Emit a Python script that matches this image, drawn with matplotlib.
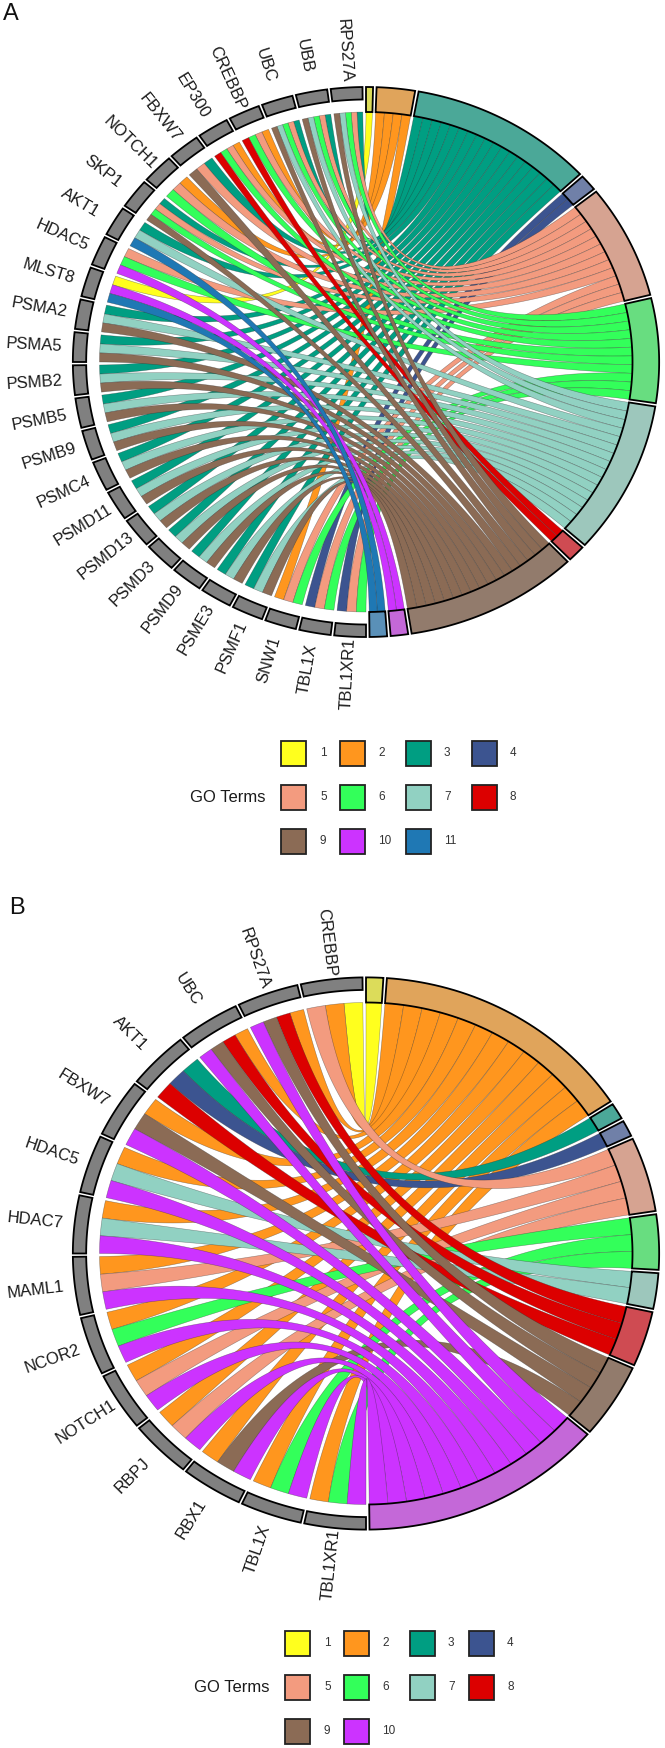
import numpy as np
from matplotlib import pyplot as plt
from matplotlib.patches import Polygon, Rectangle

plt.rcParams['font.family'] = ['Liberation Sans', 'DejaVu Sans']

ribbon_cols = ['#FFFF1E', '#FF961E', '#009E82', '#3C5490', '#F39B7F', '#33FF5A',
               '#91D1C2', '#DC0000', '#8B6B55', '#CC33FF', '#1F78B4']
term_cols = ['#DCDC5A', '#E0A45B', '#4BA898', '#7080A8', '#D6A391', '#68DD80',
             '#9DC7BC', '#CF4B52', '#927B6C', '#C468D8', '#5A90B8']

genes_a = ['RPS27A', 'UBB', 'UBC', 'CREBBP', 'EP300', 'FBXW7', 'NOTCH1', 'SKP1', 'AKT1',
           'HDAC5', 'MLST8', 'PSMA2', 'PSMA5', 'PSMB2', 'PSMB5', 'PSMB9', 'PSMC4', 'PSMD11',
           'PSMD13', 'PSMD3', 'PSMD9', 'PSME3', 'PSMF1', 'SNW1', 'TBL1X', 'TBL1XR1']
gene_terms_a = [[3, 5, 6, 7, 9], [3, 5, 6, 7, 9], [3, 5, 6, 7, 9], [2, 5, 6, 8], [2, 5, 6, 8],
                [3, 5, 9], [2, 5, 6], [3, 5, 6, 9], [3, 7, 11], [5, 6, 10], [1, 10, 11],
                [3, 7, 9], [3, 7, 9], [3, 7, 9], [3, 7, 9], [3, 7, 9], [3, 7, 9], [3, 7, 9],
                [3, 7, 9], [3, 7, 9], [3, 7, 9], [3, 7, 9], [3, 7, 9],
                [2, 5, 6], [4, 5, 6], [4, 5, 6]]

genes_b = ['CREBBP', 'RPS27A', 'UBC', 'AKT1', 'FBXW7', 'HDAC5', 'HDAC7', 'MAML1', 'NCOR2',
           'NOTCH1', 'RBPJ', 'RBX1', 'TBL1X', 'TBL1XR1']
gene_terms_b = [[1, 2, 5], [2, 8, 9, 10], [2, 8, 9, 10], [3, 4, 8], [2, 9, 10], [2, 7, 10],
                [2, 7, 10], [2, 5, 10], [2, 6, 10], [2, 5, 10], [2, 5, 10], [2, 9, 10],
                [2, 6, 10], [2, 6, 10]]

SPACE = 0.012
R1 = 1.0
R2 = 1.1
W, H = 665, 1748


def arc(r, a, b, n=40):
    t = np.linspace(a, b, n)
    return np.column_stack([r * np.sin(t), r * np.cos(t)])


def bezier(a, b, n=80):
    # quadratic curve with its control point in the centre of the circle
    t = np.linspace(0, 1, n)[:, None]
    p = np.array([np.sin(a), np.cos(a)]) * R1
    q = np.array([np.sin(b), np.cos(b)]) * R1
    return (1 - t) ** 2 * p + t ** 2 * q


def chord(ax, genes, gene_terms):
    n_terms = max(max(g) for g in gene_terms)
    counts = [sum(g.count(k + 1) for g in gene_terms) for k in range(n_terms)]
    total = sum(counts)

    # term side
    starts = np.cumsum([0] + counts[:-1]) * np.pi / total
    slices = {}
    for k in range(n_terms):
        a = starts[k]
        b = a + np.pi * counts[k] / total - SPACE
        edges = np.linspace(a, b, counts[k] + 1)
        slices[k + 1] = [(edges[i], edges[i + 1]) for i in range(counts[k])]

    # gene side, one slice per term of the gene
    pitch = np.pi / len(genes)
    ribbons = {k + 1: [] for k in range(n_terms)}
    for i, terms in enumerate(gene_terms):
        a = -SPACE - i * pitch
        b = a - pitch + SPACE
        edges = np.linspace(a, b, len(terms) + 1)
        for j, k in enumerate(terms):
            ribbons[k].append((edges[j], edges[j + 1]))

    for k in range(1, n_terms + 1):
        for (ta, tb), (ga, gb) in zip(slices[k], ribbons[k]):
            pts = np.vstack([bezier(ta, ga), arc(R1, ga, gb, 6), bezier(gb, tb), arc(R1, tb, ta, 6)])
            ax.add_patch(Polygon(pts, closed=True, facecolor=ribbon_cols[k - 1],
                                 edgecolor=(0.15, 0.15, 0.15, 0.45), linewidth=0.4))

    for k in range(n_terms):
        a = starts[k]
        b = a + np.pi * counts[k] / total - SPACE
        pts = np.vstack([arc(R1, a, b), arc(R2, b, a)])
        ax.add_patch(Polygon(pts, closed=True, facecolor=term_cols[k], edgecolor='black',
                             linewidth=1.3, joinstyle='miter'))

    for i, name in enumerate(genes):
        a = -SPACE - i * pitch
        b = a - pitch + SPACE
        pts = np.vstack([arc(R1 + 0.05, a, b), arc(R2, b, a)])
        ax.add_patch(Polygon(pts, closed=True, facecolor='#808080', edgecolor='black',
                             linewidth=1.3, joinstyle='miter'))
        mid = (a + b) / 2
        rot = np.degrees(np.arctan2(-np.cos(mid), -np.sin(mid)))
        ax.text(1.247 * np.sin(mid), 1.247 * np.cos(mid), name, fontsize=12, color='#1a1a1a',
                rotation=rot, rotation_mode='anchor', ha='center', va='center')


def panel(fig, top, bottom, cx, cy, ux, uy):
    ax = fig.add_axes([0, 1 - bottom / H, 1, (bottom - top) / H])
    ax.set_xlim(-cx / ux, (W - cx) / ux)
    ax.set_ylim((cy - bottom) / uy, (cy - top) / uy)
    ax.axis('off')
    return ax


def legend(ax, n, col_x, label_x, row_y, title_x):
    ax.text(title_x, row_y[1], 'GO Terms', fontsize=12, color='#1a1a1a', ha='left', va='center')
    for k in range(n):
        row, col = k // 4, k % 4
        ax.add_patch(Rectangle((col_x[col] - 12.5, row_y[row] - 12.5), 25, 25,
                               facecolor=ribbon_cols[k], edgecolor='#222222', linewidth=1.3))
        ax.text(label_x[col], row_y[row], str(k + 1), fontsize=8.5, color='#333333',
                ha='left', va='center')


fig = plt.figure(figsize=(W / 100, H / 100), dpi=100)

ax_a = panel(fig, 0, 874, 366, 362, 266.5, 250)
chord(ax_a, genes_a, gene_terms_a)
ax_b = panel(fig, 874, 1748, 366, 1253.5, 266.5, 251)
chord(ax_b, genes_b, gene_terms_b)

# page level items are placed in pixels
over = fig.add_axes([0, 0, 1, 1], facecolor='none')
over.set_xlim(0, W)
over.set_ylim(H, 0)
over.axis('off')
over.text(3, 20, 'A', fontsize=17, color='#111111', ha='left', va='baseline')
over.text(9, 914, 'B', fontsize=17, color='#111111', ha='left', va='baseline')
legend(over, 11, [293, 352, 418, 484], [320, 378, 444, 510], [753, 797, 841], 190)
legend(over, 10, [297, 356, 422, 481], [324, 382, 448, 507], [1643, 1687, 1731], 194)

fig.savefig('out.png', dpi=100)
